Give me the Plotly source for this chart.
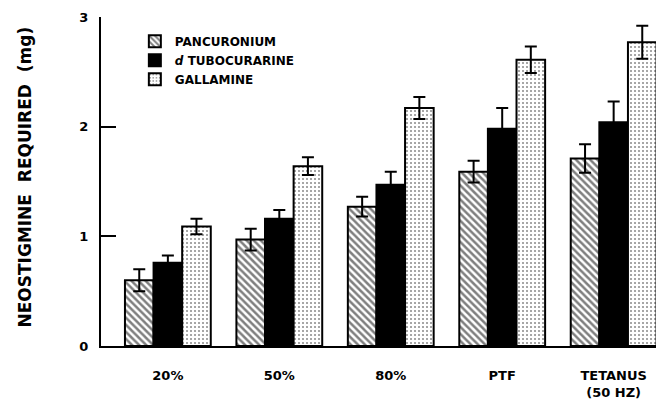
import plotly.graph_objects as go

categories = ["20%", "50%", "80%", "PTF", "TETANUS<br>(50 HZ)"]
series_names = ["PANCURONIUM", "<i>d</i> TUBOCURARINE", "GALLAMINE"]
pancuronium = [0.60, 0.97, 1.27, 1.59, 1.71]
pancuronium_err = [0.10, 0.10, 0.09, 0.10, 0.13]
tubocurarine = [0.76, 1.16, 1.47, 1.98, 2.04]
tubocurarine_err = [0.065, 0.08, 0.12, 0.19, 0.19]
gallamine = [1.09, 1.64, 2.17, 2.61, 2.77]
gallamine_err = [0.07, 0.08, 0.10, 0.12, 0.15]
y_ticks = [0, 1, 2, 3]

FONT = "DejaVu Sans"

fig = go.Figure()
styles = [
    dict(color="white", pattern=dict(shape="\\", fgcolor="black", bgcolor="white", size=5, solidity=0.5)),
    dict(color="black"),
    dict(color="white", pattern=dict(shape=".", fgcolor="#222", bgcolor="white", size=4, solidity=0.22)),
]
for name, vals, errs, st in zip(series_names,
                                [pancuronium, tubocurarine, gallamine],
                                [pancuronium_err, tubocurarine_err, gallamine_err],
                                styles):
    marker = dict(color=st["color"], line=dict(color="black", width=2))
    if "pattern" in st:
        marker["pattern"] = st["pattern"]
    fig.add_trace(go.Bar(
        x=categories, y=vals, name=name, marker=marker,
        error_y=dict(type="data", array=errs, visible=True, color="black", thickness=2, width=6),
    ))

fig.update_layout(
    width=656, height=400,
    margin=dict(l=101, r=0, t=17, b=47),
    paper_bgcolor="white", plot_bgcolor="white",
    barmode="group", bargap=0.23, bargroupgap=0,
    font=dict(family=FONT, color="black"),
    showlegend=True,
    legend=dict(x=0.061, y=0.97, xanchor="left", yanchor="top",
                bgcolor="rgba(0,0,0,0)", font=dict(size=12, family=FONT, weight="bold"),
                itemwidth=30),
    xaxis=dict(range=[-0.6, 4.38], showline=True, linecolor="black", linewidth=2,
               ticks="", tickfont=dict(size=13, family=FONT, weight="bold"),
               ticklabelstandoff=16, showgrid=False, zeroline=False),
    yaxis=dict(range=[0, 3], tickvals=y_ticks, showline=True, linecolor="black", linewidth=2,
               ticks="inside", ticklen=15, tickwidth=2, tickcolor="black",
               tickfont=dict(size=13, family=FONT, weight="bold"), ticklabelstandoff=8,
               showgrid=False, zeroline=False),
    annotations=[dict(text="NEOSTIGMINE  REQUIRED  (mg)", xref="paper", yref="paper",
                      x=-0.137, y=0.515, xanchor="center", yanchor="middle", textangle=-90,
                      showarrow=False, font=dict(size=17, family=FONT, weight="bold"))],
)

fig.write_html("out.html")
